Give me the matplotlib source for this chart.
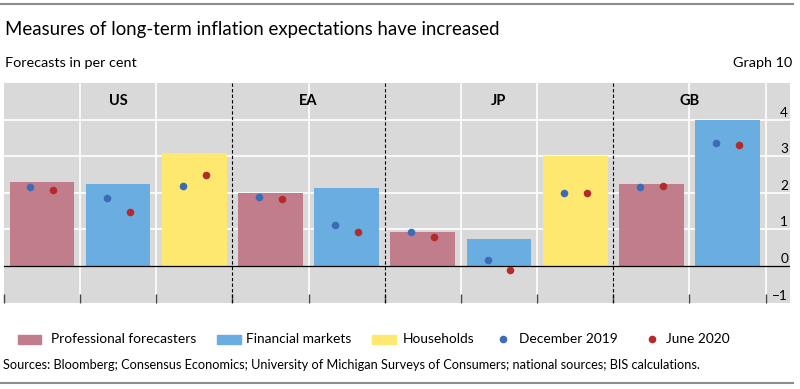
import numpy as np
import matplotlib
matplotlib.use("Agg")
import matplotlib.pyplot as plt
from matplotlib.patches import Rectangle
from matplotlib.lines import Line2D
from matplotlib.transforms import offset_copy

plt.rcParams['font.family'] = ['Lato', 'DejaVu Sans']

# data
groups = ['US', 'EA', 'JP', 'GB']
group_sizes = [3, 2, 3, 2]
bar_kind = ['prof', 'fin', 'hh', 'prof', 'fin', 'prof', 'fin', 'hh', 'prof', 'fin']
bar_values = [2.30, 2.25, 3.10, 2.00, 2.14, 0.93, 0.75, 3.00, 2.25, 4.00]
dec2019 = [2.15, 1.87, 2.19, 1.88, 1.12, 0.93, 0.16, 1.99, 2.15, 3.35]
jun2020 = [2.08, 1.49, 2.49, 1.84, 0.93, 0.79, -0.11, 1.99, 2.20, 3.31]
kind_labels = {'prof': 'Professional forecasters', 'fin': 'Financial markets',
               'hh': 'Households'}
yticks = [-1, 0, 1, 2, 3, 4]

colors = {'prof': '#c17d8c', 'fin': '#6aade0', 'hh': '#ffe870'}
c_dec = '#3a6db5'
c_jun = '#b52b2b'
bg = '#d9d9d9'

W, H = 800, 389
fig = plt.figure(figsize=(W / 100, H / 100), dpi=100)


def fx(px):
    return px / W


def fy(py):
    return 1 - py / H


ax = fig.add_axes([fx(3.8), fy(302.7), fx(790 - 3.8), (302.7 - 83) / H])
ax.set_facecolor(bg)
for s in ax.spines.values():
    s.set_visible(False)

x = np.arange(len(bar_values))
ax.set_xlim(-0.5, 9.82)
ax.set_ylim(-1, 5)

# grid
for yv in [1, 2, 3, 4]:
    ax.axhline(yv, color='white', lw=1.2, zorder=0)
bounds = np.cumsum(group_sizes)[:-1] - 0.5
for b in np.arange(0.5, 10, 1):
    if b in bounds:
        ax.axvline(b, color='black', lw=0.8, ls=(0, (3, 2)), zorder=3)
    else:
        ax.axvline(b, color='white', lw=1.2, zorder=0)

ax.bar(x, bar_values, width=0.85, color=[colors[k] for k in bar_kind], zorder=1)
ax.axhline(0, color='black', lw=0.9, zorder=2)
ax.scatter(x - 0.15, dec2019, s=30, color=c_dec, zorder=4, linewidths=0)
ax.scatter(x + 0.15, jun2020, s=30, color=c_jun, zorder=4, linewidths=0)

# group labels
start = 0
for g, n in zip(groups, group_sizes):
    ax.text(start + (n - 1) / 2, 4.5, g, ha='center', va='center',
            fontsize=10.5, fontweight='bold')
    start += n

# bottom ticks
ax.set_xticks(np.arange(-0.5, 10, 1))
ax.set_xticklabels([])
ax.tick_params(axis='x', direction='in', length=6.5, width=1, color='#444')
ax.set_yticks([])

# y labels on the right, inside the grey area
ytr = offset_copy(ax.get_yaxis_transform(), fig=fig, x=0, y=3, units='dots')
for t in yticks:
    ax.text(0.9975, t, str(t).replace('-', '\u2212'), transform=ytr,
            ha='right', va='baseline', fontsize=9.8)

# header and footer
fig.add_artist(Line2D([0, fx(793)], [fy(4), fy(4)], color='#8c8c8c', lw=1.5))
fig.add_artist(Line2D([0, fx(793)], [fy(383), fy(383)], color='#8c8c8c', lw=1.5))
fig.text(fx(5), fy(35), 'Measures of long-term inflation expectations have increased',
         fontsize=13.4, va='baseline')
fig.text(fx(5), fy(67), 'Forecasts in per cent', fontsize=10.4, va='baseline')
fig.text(fx(792), fy(67), 'Graph 10', fontsize=10.4, va='baseline', ha='right')

# legend
ly = 339
for k, px0, tx in [('prof', 17.5, 51), ('fin', 217, 246), ('hh', 372, 403)]:
    fig.add_artist(Rectangle((fx(px0), fy(ly + 4.5)), fx(23.5), 9 / H,
                             transform=fig.transFigure, color=colors[k]))
    fig.text(fx(tx), fy(ly), kind_labels[k], fontsize=9.9, va='center')
for c, px0, tx, lab in [(c_dec, 503, 519, 'December 2019'), (c_jun, 652, 666, 'June 2020')]:
    fig.add_artist(Line2D([fx(px0)], [fy(ly)], marker='o', ms=4.5, color=c, lw=0,
                          transform=fig.transFigure))
    fig.text(fx(tx), fy(ly), lab, fontsize=9.9, va='center')

fig.text(fx(3), fy(365), 'Sources: Bloomberg; Consensus Economics; University of Michigan '
         'Surveys of Consumers; national sources; BIS calculations.',
         fontsize=9.2, va='center')

fig.savefig('out.png', dpi=100)
